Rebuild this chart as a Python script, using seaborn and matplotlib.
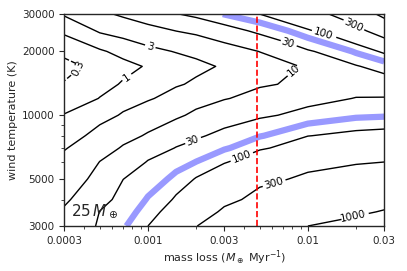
import numpy as np
import matplotlib
matplotlib.use("Agg")
import matplotlib.pyplot as plt
import seaborn as sns
from matplotlib.ticker import FixedLocator, FixedFormatter, NullFormatter

# Step 1: values
mass_loss = [0.0003, 0.0005, 0.0007, 0.001, 0.0015, 0.002, 0.003, 0.005, 0.01, 0.02, 0.03]
wind_temp = [3000, 3500, 4000, 5000, 6000, 7000, 8000, 10000, 12000, 14000, 17000, 20000, 25000, 30000]

# log10 of the contoured quantity, one row per wind temperature
log_3000 = [1.17, 1.53, 1.75, 2.0, 2.30, 2.47, 2.68, 2.77, 3.0, 3.10, 3.17]
log_3500 = [1.05, 1.485, 1.664, 1.898, 2.16, 2.33, 2.53, 2.67, 2.865, 2.958, 3.02]
log_4000 = [0.939, 1.367, 1.593, 1.80, 2.04, 2.215, 2.40, 2.58, 2.75, 2.83, 2.89]
log_5000 = [0.748, 1.17, 1.474, 1.64, 1.852, 2.02, 2.17, 2.40, 2.55, 2.63, 2.66]
log_6000 = [0.591, 1.011, 1.24, 1.506, 1.67, 1.785, 1.986, 2.17, 2.357, 2.452, 2.48]
log_7000 = [0.45, 0.816, 1.045, 1.28, 1.494, 1.597, 1.75, 1.97, 2.16, 2.25, 2.28]
log_8000 = [0.293, 0.642, 0.856, 1.053, 1.285, 1.429, 1.588, 1.764, 1.995, 2.08, 2.108]
log_10000 = [0.02, 0.316, 0.528, 0.70, 0.927, 1.098, 1.264, 1.42, 1.61, 1.73, 1.75]
log_12000 = [-0.246, 0.014, 0.267, 0.436, 0.65, 0.809, 0.977, 1.157, 1.333, 1.497, 1.498]
log_14000 = [-0.49, -0.145, 0.045, 0.26, 0.432, 0.55, 0.777, 0.95, 1.12, 1.22, 1.25]
log_17000 = [-0.68, -0.30, -0.14, 0.05, 0.226, 0.36, 0.54, 0.76, 1.08, 1.45, 1.65]
log_20000 = [-0.387, -0.057, 0.156, 0.36, 0.504, 0.60, 0.795, 1.01, 1.44, 1.82, 2.06]
log_25000 = [0.105, 0.54, 0.683, 0.85, 1.005, 1.106, 1.31, 1.58, 1.97, 2.36, 2.72]
log_30000 = [0.53, 0.91, 1.08, 1.26, 1.46, 1.58, 1.79, 2.0, 2.30, 2.80, 3.1]

levels = [0.3, 1, 3, 10, 30, 100, 300, 1000]
blue_level = 60
critical_mass_loss = 0.0048

x_ticks = [0.0003, 0.001, 0.003, 0.01, 0.03]
x_tick_labels = ["0.0003", "0.001", "0.003", "0.01", "0.03"]
y_ticks = [3000, 5000, 10000, 20000, 30000]
y_tick_labels = ["3000", "5000", "10000", "20000", "30000"]

# where the contour labels sit (data coords)
label_spots = [(0.00036, 16900), (0.00074, 15000), (0.00103, 21400),
               (0.0086, 15500), (0.0075, 21900), (0.0125, 24400),
               (0.0192, 26600), (0.0019, 7640), (0.0038, 6490),
               (0.006, 5050), (0.0192, 3340)]

# Step 2: build the grid
Z = np.array([log_3000, log_3500, log_4000, log_5000, log_6000, log_7000,
              log_8000, log_10000, log_12000, log_14000, log_17000,
              log_20000, log_25000, log_30000])
X, Y = np.meshgrid(mass_loss, wind_temp)

# Step 3: plot
sns.set_style("ticks")
plt.rcParams["font.family"] = ["DejaVu Sans"]

fig = plt.figure(figsize=(4.07, 2.71), dpi=100)
ax = fig.add_axes([0.158, 0.166, 0.786, 0.782])
ax.set_xscale("log")
ax.set_yscale("log")
ax.set_xlim(mass_loss[0], mass_loss[-1])
ax.set_ylim(wind_temp[0], wind_temp[-1])

ax.contour(X, Y, Z, levels=[np.log10(blue_level)], colors="blue",
           alpha=0.4, linewidths=4.5)
cs = ax.contour(X, Y, Z, levels=np.log10(levels), colors="black",
                linewidths=1.0)
ax.clabel(cs, fmt=lambda v: f"{10 ** v:g}", fontsize=7.5,
          manual=label_spots, inline=True, inline_spacing=2)

ax.axvline(critical_mass_loss, color="red", ls="--", lw=1.2)

ax.text(0.02, 0.03, r"25$\,M_\oplus$", transform=ax.transAxes, fontsize=11,
        va="bottom", ha="left")

ax.xaxis.set_major_locator(FixedLocator(x_ticks))
ax.xaxis.set_major_formatter(FixedFormatter(x_tick_labels))
ax.xaxis.set_minor_formatter(NullFormatter())
ax.yaxis.set_major_locator(FixedLocator(y_ticks))
ax.yaxis.set_major_formatter(FixedFormatter(y_tick_labels))
ax.yaxis.set_minor_formatter(NullFormatter())
ax.tick_params(which="major", length=3.5, width=0.8, labelsize=7.5)
ax.tick_params(which="minor", length=2, width=0.6)
for s in ax.spines.values():
    s.set_linewidth(1.0)

ax.set_xlabel(r"mass loss ($M_\oplus$ Myr$^{-1}$)", fontsize=8, labelpad=2)
ax.set_ylabel("wind temperature (K)", fontsize=8, labelpad=3)

fig.savefig("out.png", dpi=100)
